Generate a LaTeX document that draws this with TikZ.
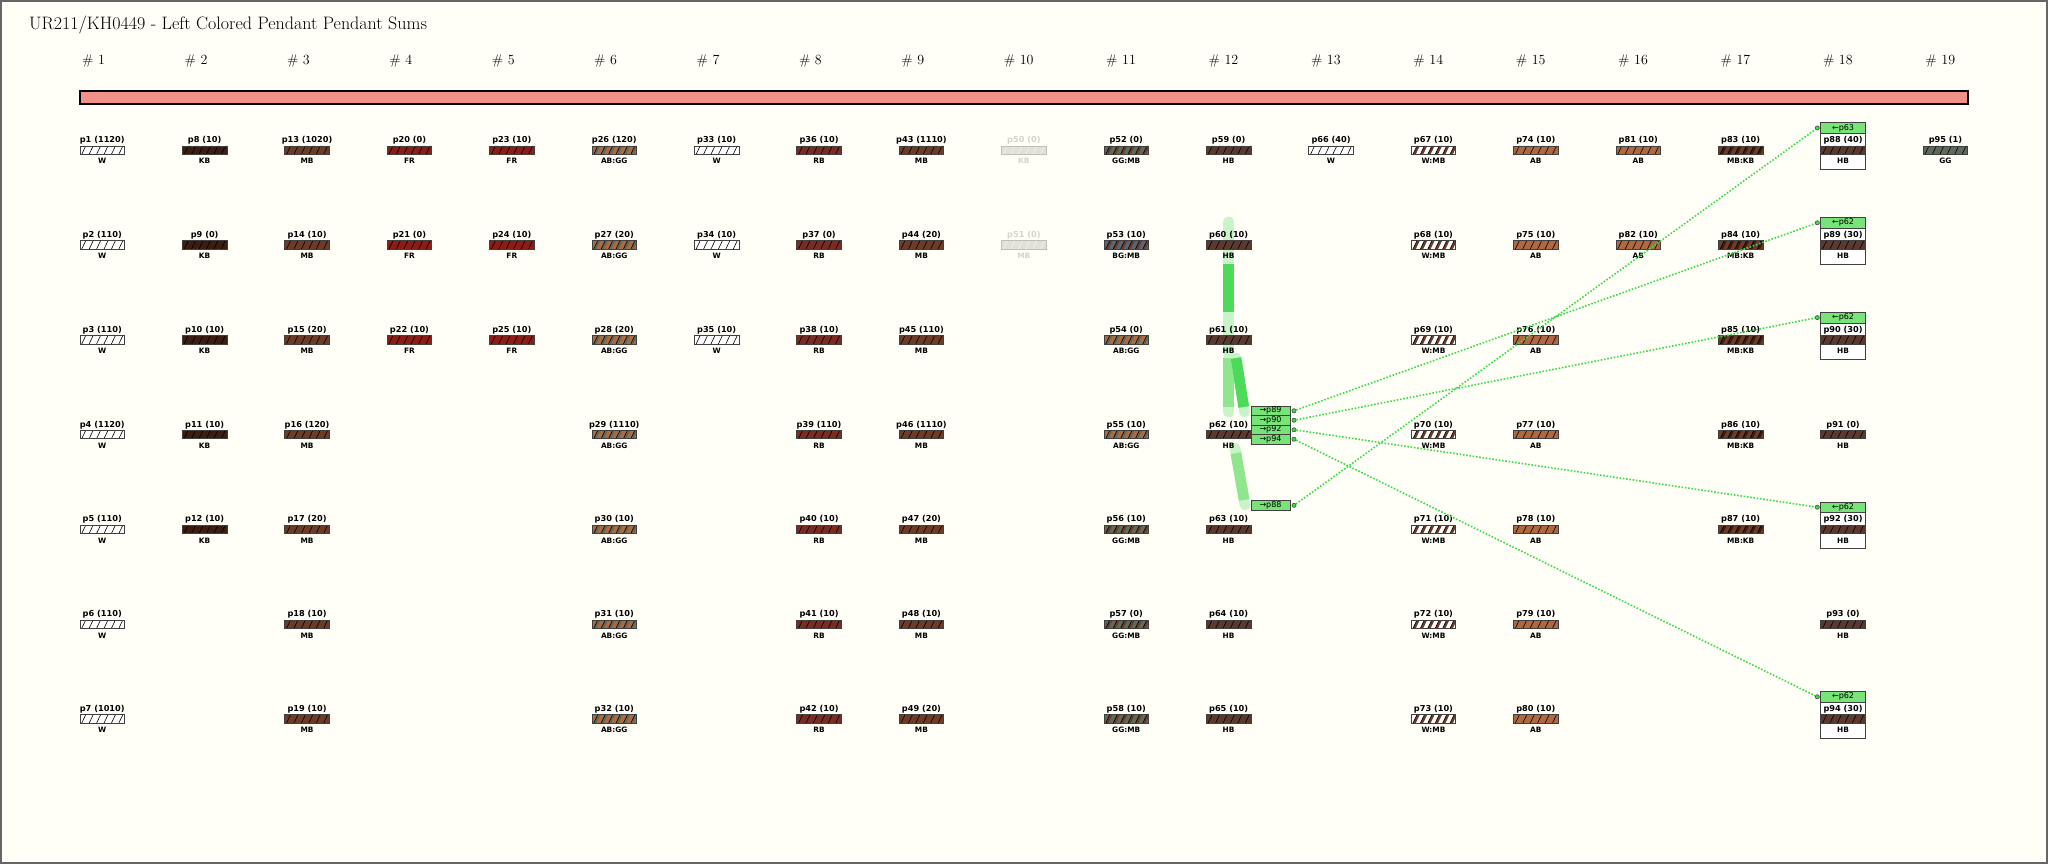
\documentclass[tikz,border=0pt]{standalone}
\usepackage{fontspec}
\newfontfamily\lab{DejaVu Sans}
\usetikzlibrary{calc}
\definecolor{bg}{HTML}{FFFEF7}
\definecolor{cW}{HTML}{FFFFFF}
\definecolor{cKB}{HTML}{3D1C12}
\definecolor{cMB}{HTML}{6E3B27}
\definecolor{cFR}{HTML}{8E1B14}
\definecolor{cAB}{HTML}{B0693F}
\definecolor{cGG}{HTML}{5E6A5A}
\definecolor{cRB}{HTML}{7A2C22}
\definecolor{cHB}{HTML}{5B392E}
\definecolor{cBG}{HTML}{596579}
\definecolor{cFade}{HTML}{E3E0D8}
\definecolor{tFade}{HTML}{D6D3CB}
\definecolor{cordpink}{HTML}{F0928A}
\definecolor{gHead}{HTML}{78E478}
\definecolor{gDot}{HTML}{3BDD45}
\definecolor{gLight}{HTML}{C9F3C9}
\definecolor{gMed}{HTML}{8FE68F}
\definecolor{gDark}{HTML}{4CDA58}
\tikzset{
  pbar/.style 2 args={rectangle, inner sep=0pt, minimum width=44.5pt, minimum height=8.4pt,
    fill=#1, draw=black!75, line width=0.7pt,
    path picture={
      \foreach \k in {0,...,5}{
        \fill[#2] (-20.55+\k*7.42,4.2) -- ++(2.8,0) -- ++(4,-8.4) -- ++(-2.8,0) -- cycle;
        \draw[black, line width=0.6pt] (-20.55+\k*7.42,4.2) -- ++(4,-8.4);
      }
    }},
  pbarfade/.style={rectangle, inner sep=0pt, minimum width=44.5pt, minimum height=8.4pt,
    fill=cFade, draw=cFade!85!black, line width=0.7pt,
    path picture={
      \foreach \k in {0,...,5}{
        \draw[white!60!cFade, line width=0.6pt] (-20.55+\k*7.42,4.2) -- ++(4,-8.4);
      }
    }},
  ptext/.style={font=\lab\bfseries\fontsize{8.2}{9}\selectfont, inner sep=0pt, anchor=base},
  clab/.style={font=\lab\bfseries\fontsize{7.4}{8}\selectfont, inner sep=0pt, anchor=base},
  wbox/.style={rectangle, inner sep=0pt, minimum width=44.5pt, minimum height=36pt,
    fill=white, draw=black!75, line width=0.8pt},
  hbox/.style={rectangle, inner sep=0pt, minimum width=44.5pt, minimum height=10.6pt,
    fill=gHead, draw=black!75, line width=0.8pt, font=\lab\fontsize{8}{8}\selectfont},
  abox/.style={rectangle, inner sep=0pt, minimum width=39pt, minimum height=9.5pt,
    fill=gHead, draw=black!75, line width=0.8pt, font=\lab\fontsize{8}{8}\selectfont},
  dotc/.style={circle, inner sep=0pt, minimum size=4.2pt, fill=gDot, draw=black!70, line width=0.6pt},
  dotl/.style={gDot, line width=1.6pt, dash pattern=on 1.6pt off 1.7pt},
  band/.style={line width=10.7pt},
  colhead/.style={font=\fontsize{14}{16}\selectfont, inner sep=0pt, anchor=base west},
}
\newcommand\pend[7]{%
  \pgfmathsetmacro\px{80+(#1-1)*102.4+22.25}%
  \pgfmathsetmacro\py{146+(#2-1)*94.8+4.2}%
  \node[pbar={#6}{#7}] (p#3) at (\px,\py) {};
  \node[ptext] (p#3t) at (\px,\py-7.5) {p#3 (#4)};
  \node[clab] (p#3c) at (\px,\py+13.8) {#5};
}
\newcommand\pendf[5]{%
  \pgfmathsetmacro\px{80+(#1-1)*102.4+22.25}%
  \pgfmathsetmacro\py{146+(#2-1)*94.8+4.2}%
  \node[pbarfade] (p#3) at (\px,\py) {};
  \node[ptext, text=tFade] (p#3t) at (\px,\py-7.5) {p#3 (#4)};
  \node[clab, text=tFade] (p#3c) at (\px,\py+13.8) {#5};
}
\newcommand\tpend[4]{%
  \pgfmathsetmacro\tx{80+17*102.4+22.25}%
  \pgfmathsetmacro\ty{146+(#1-1)*94.8}%
  \node[wbox] (p#2w) at (\tx,\ty+5.3) {};
  \node[hbox] (p#2h) at (\tx,\ty-18) {←p#4};
  \pend{18}{#1}{#2}{#3}{HB}{cHB}{cHB}
  \node[dotc] (p#2i) at (\tx-25.75,\ty-18) {};
}
\begin{document}
\begin{tikzpicture}[x=1pt, y=-1pt]
\useasboundingbox (0,0) rectangle (2048,864);
\fill[bg] (0,0) rectangle (2048,864);
\draw[black!60, line width=2pt] (1,1) rectangle (2047,863);
% title
\node[anchor=base west, inner sep=0pt, font=\fontsize{18}{22}\selectfont] (title) at (29,30)
  {UR\oldstylenums{211}/KH\oldstylenums{0449} - Left Colored Pendant Pendant Sums};
% column headers
\foreach \c in {1,...,19}{
  \node[colhead] (h\c) at ({80+(\c-1)*102.4+2},65) {\# \oldstylenums{\c}};
}
% primary cord
\node[rectangle, inner sep=0pt, minimum width=1888pt, minimum height=13pt, fill=cordpink,
  draw=black, line width=1.5pt] (cord) at (1024,97.5) {};
% flow bands
\coordinate (f1a) at (1228.7,222); \coordinate (f1b) at (1228.7,352);
\coordinate (f2a) at (1228.7,358); \coordinate (f2b) at (1228.7,412);
\coordinate (f3a) at (1236,358);   \coordinate (f3b) at (1244.5,412);
\coordinate (f4a) at (1235,448);   \coordinate (f4b) at (1245,505);
\draw[band, gLight, line cap=round] (f1a) -- (f1b);
\draw[band, gDark] (1228.7,264) -- (1228.7,312);
\draw[band, gLight, line cap=round] (f2a) -- (f2b);
\draw[band, gMed] (1228.7,358) -- (1228.7,407);
\draw[band, gLight, line cap=round] (f3a) -- (f3b);
\draw[band, gDark] (f3a) -- ($(f3a)!0.907!(f3b)$);
\draw[band, gLight, line cap=round] (f4a) -- (f4b);
\draw[band, gMed] ($(f4a)!0.09!(f4b)$) -- ($(f4a)!0.91!(f4b)$);
% column 1
\pend{1}{1}{1}{1120}{W}{cW}{cW}
\pend{1}{2}{2}{110}{W}{cW}{cW}
\pend{1}{3}{3}{110}{W}{cW}{cW}
\pend{1}{4}{4}{1120}{W}{cW}{cW}
\pend{1}{5}{5}{110}{W}{cW}{cW}
\pend{1}{6}{6}{110}{W}{cW}{cW}
\pend{1}{7}{7}{1010}{W}{cW}{cW}
% column 2
\pend{2}{1}{8}{10}{KB}{cKB}{cKB}
\pend{2}{2}{9}{0}{KB}{cKB}{cKB}
\pend{2}{3}{10}{10}{KB}{cKB}{cKB}
\pend{2}{4}{11}{10}{KB}{cKB}{cKB}
\pend{2}{5}{12}{10}{KB}{cKB}{cKB}
% column 3
\pend{3}{1}{13}{1020}{MB}{cMB}{cMB}
\pend{3}{2}{14}{10}{MB}{cMB}{cMB}
\pend{3}{3}{15}{20}{MB}{cMB}{cMB}
\pend{3}{4}{16}{120}{MB}{cMB}{cMB}
\pend{3}{5}{17}{20}{MB}{cMB}{cMB}
\pend{3}{6}{18}{10}{MB}{cMB}{cMB}
\pend{3}{7}{19}{10}{MB}{cMB}{cMB}
% column 4
\pend{4}{1}{20}{0}{FR}{cFR}{cFR}
\pend{4}{2}{21}{0}{FR}{cFR}{cFR}
\pend{4}{3}{22}{10}{FR}{cFR}{cFR}
% column 5
\pend{5}{1}{23}{10}{FR}{cFR}{cFR}
\pend{5}{2}{24}{10}{FR}{cFR}{cFR}
\pend{5}{3}{25}{10}{FR}{cFR}{cFR}
% column 6
\pend{6}{1}{26}{120}{AB:GG}{cAB}{cGG}
\pend{6}{2}{27}{20}{AB:GG}{cAB}{cGG}
\pend{6}{3}{28}{20}{AB:GG}{cAB}{cGG}
\pend{6}{4}{29}{1110}{AB:GG}{cAB}{cGG}
\pend{6}{5}{30}{10}{AB:GG}{cAB}{cGG}
\pend{6}{6}{31}{10}{AB:GG}{cAB}{cGG}
\pend{6}{7}{32}{10}{AB:GG}{cAB}{cGG}
% column 7
\pend{7}{1}{33}{10}{W}{cW}{cW}
\pend{7}{2}{34}{10}{W}{cW}{cW}
\pend{7}{3}{35}{10}{W}{cW}{cW}
% column 8
\pend{8}{1}{36}{10}{RB}{cRB}{cRB}
\pend{8}{2}{37}{0}{RB}{cRB}{cRB}
\pend{8}{3}{38}{10}{RB}{cRB}{cRB}
\pend{8}{4}{39}{110}{RB}{cRB}{cRB}
\pend{8}{5}{40}{10}{RB}{cRB}{cRB}
\pend{8}{6}{41}{10}{RB}{cRB}{cRB}
\pend{8}{7}{42}{10}{RB}{cRB}{cRB}
% column 9
\pend{9}{1}{43}{1110}{MB}{cMB}{cMB}
\pend{9}{2}{44}{20}{MB}{cMB}{cMB}
\pend{9}{3}{45}{110}{MB}{cMB}{cMB}
\pend{9}{4}{46}{1110}{MB}{cMB}{cMB}
\pend{9}{5}{47}{20}{MB}{cMB}{cMB}
\pend{9}{6}{48}{10}{MB}{cMB}{cMB}
\pend{9}{7}{49}{20}{MB}{cMB}{cMB}
% column 10
\pendf{10}{1}{50}{0}{KB}
\pendf{10}{2}{51}{0}{MB}
% column 11
\pend{11}{1}{52}{0}{GG:MB}{cGG}{cMB}
\pend{11}{2}{53}{10}{BG:MB}{cBG}{cMB}
\pend{11}{3}{54}{0}{AB:GG}{cAB}{cGG}
\pend{11}{4}{55}{10}{AB:GG}{cAB}{cGG}
\pend{11}{5}{56}{10}{GG:MB}{cGG}{cMB}
\pend{11}{6}{57}{0}{GG:MB}{cGG}{cMB}
\pend{11}{7}{58}{10}{GG:MB}{cGG}{cMB}
% column 12
\pend{12}{1}{59}{0}{HB}{cHB}{cHB}
\pend{12}{2}{60}{10}{HB}{cHB}{cHB}
\pend{12}{3}{61}{10}{HB}{cHB}{cHB}
\pend{12}{4}{62}{10}{HB}{cHB}{cHB}
\pend{12}{5}{63}{10}{HB}{cHB}{cHB}
\pend{12}{6}{64}{10}{HB}{cHB}{cHB}
\pend{12}{7}{65}{10}{HB}{cHB}{cHB}
% column 13
\pend{13}{1}{66}{40}{W}{cW}{cW}
% column 14
\pend{14}{1}{67}{10}{W:MB}{cW}{cMB}
\pend{14}{2}{68}{10}{W:MB}{cW}{cMB}
\pend{14}{3}{69}{10}{W:MB}{cW}{cMB}
\pend{14}{4}{70}{10}{W:MB}{cW}{cMB}
\pend{14}{5}{71}{10}{W:MB}{cW}{cMB}
\pend{14}{6}{72}{10}{W:MB}{cW}{cMB}
\pend{14}{7}{73}{10}{W:MB}{cW}{cMB}
% column 15
\pend{15}{1}{74}{10}{AB}{cAB}{cAB}
\pend{15}{2}{75}{10}{AB}{cAB}{cAB}
\pend{15}{3}{76}{10}{AB}{cAB}{cAB}
\pend{15}{4}{77}{10}{AB}{cAB}{cAB}
\pend{15}{5}{78}{10}{AB}{cAB}{cAB}
\pend{15}{6}{79}{10}{AB}{cAB}{cAB}
\pend{15}{7}{80}{10}{AB}{cAB}{cAB}
% column 16
\pend{16}{1}{81}{10}{AB}{cAB}{cAB}
\pend{16}{2}{82}{10}{AB}{cAB}{cAB}
% column 17
\pend{17}{1}{83}{10}{MB:KB}{cMB}{cKB}
\pend{17}{2}{84}{10}{MB:KB}{cMB}{cKB}
\pend{17}{3}{85}{10}{MB:KB}{cMB}{cKB}
\pend{17}{4}{86}{10}{MB:KB}{cMB}{cKB}
\pend{17}{5}{87}{10}{MB:KB}{cMB}{cKB}
% column 18
\tpend{1}{88}{40}{63}
\tpend{2}{89}{30}{62}
\tpend{3}{90}{30}{62}
\pend{18}{4}{91}{0}{HB}{cHB}{cHB}
\tpend{5}{92}{30}{62}
\pend{18}{6}{93}{0}{HB}{cHB}{cHB}
\tpend{7}{94}{30}{62}
% column 19
\pend{19}{1}{95}{1}{GG}{cGG}{cGG}
% outgoing boxes
\node[abox] (a89) at (1270.5,410.75) {→p89};
\node[abox] (a90) at (1270.5,420.25) {→p90};
\node[abox] (a92) at (1270.5,429.75) {→p92};
\node[abox] (a94) at (1270.5,439.25) {→p94};
\node[abox] (a88) at (1270.5,505.35) {→p88};
\node[dotc] (a89c) at (1294,410.75) {};
\node[dotc] (a90c) at (1294,420.25) {};
\node[dotc] (a92c) at (1294,429.75) {};
\node[dotc] (a94c) at (1294,439.25) {};
\node[dotc] (a88c) at (1294,505.35) {};
% dotted links
\draw[dotl] (a89c) -- (p89i);
\draw[dotl] (a90c) -- (p90i);
\draw[dotl] (a92c) -- (p92i);
\draw[dotl] (a94c) -- (p94i);
\draw[dotl] (a88c) -- (p88i);
\end{tikzpicture}
\end{document}
